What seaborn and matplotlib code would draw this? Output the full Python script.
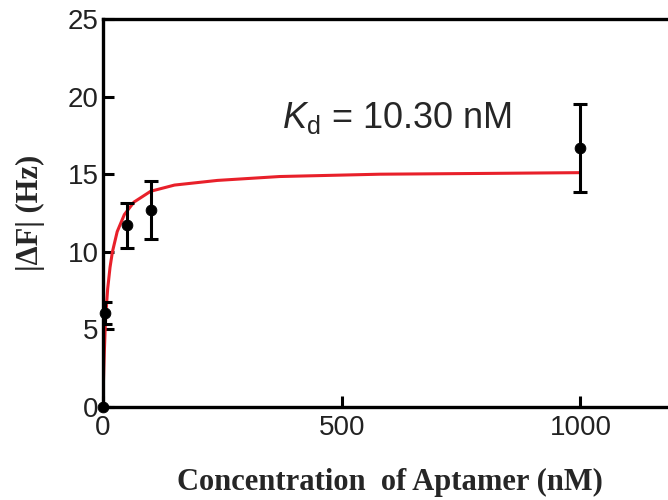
import numpy as np
import pandas as pd
import matplotlib
matplotlib.use("Agg")
import matplotlib.pyplot as plt
import seaborn as sns

# measured points (mean +- sd)
conc = [0, 5, 50, 100, 1000]
delta_f = [0.0, 6.05, 11.7, 12.7, 16.7]
delta_f_err = [0.0, 0.7, 1.45, 1.85, 2.85]

# fitted binding curve
fit_conc = [0, 1, 2, 3, 5, 7, 10, 15, 20, 30, 45, 65, 100, 150, 240, 370, 580, 800, 1000]
fit_df = [0.0, 1.4, 2.5, 3.5, 5.2, 6.3, 7.6, 9.0, 10.0, 11.3, 12.4, 13.2, 13.9, 14.3,
          14.6, 14.85, 15.0, 15.05, 15.1]

kd_label = r"$\mathit{K}_\mathrm{d}$ = 10.30 nM"

sns.set_style("ticks")
plt.rcParams["font.family"] = ["Liberation Sans", "DejaVu Sans"]
plt.rcParams["mathtext.fontset"] = "custom"
plt.rcParams["mathtext.rm"] = "Liberation Sans"
plt.rcParams["mathtext.it"] = "Liberation Sans:italic"

fig = plt.figure(figsize=(6.68, 5.0), dpi=100)
ax = fig.add_axes([0.154, 0.186, 0.858, 0.776])

fit = pd.DataFrame({"conc": fit_conc, "df": fit_df})
sns.lineplot(data=fit, x="conc", y="df", ax=ax, color="#e8202a", linewidth=2.2, zorder=2)

ax.errorbar(conc, delta_f, yerr=delta_f_err, fmt="none", ecolor="black",
            elinewidth=2.2, capsize=5, capthick=2.2, zorder=3)
pts = pd.DataFrame({"conc": conc, "df": delta_f})
sns.scatterplot(data=pts, x="conc", y="df", ax=ax, color="black", s=60,
                edgecolor="black", zorder=4, clip_on=False)

ax.text(375, 18.0, kd_label, fontsize=26, ha="left", va="baseline")

ax.set_xlim(0, 1200)
ax.set_ylim(0, 25)
ax.set_xticks([0, 500, 1000])
ax.set_yticks([0, 5, 10, 15, 20, 25])
ax.tick_params(direction="in", length=8, width=2.2, labelsize=20, color="black",
               labelcolor="#222222")
ax.tick_params(axis="x", pad=6)
ax.tick_params(axis="y", pad=3)
for s in ax.spines.values():
    s.set_linewidth(2.4)
    s.set_color("black")

ax.set_xlabel("Concentration  of Aptamer (nM)", fontsize=22, fontweight="bold",
              family="Liberation Serif", labelpad=19)
ax.set_ylabel("|ΔF| (Hz)", fontsize=22, fontweight="bold",
              family="Liberation Serif", labelpad=16)

fig.savefig("out.png", dpi=100)
